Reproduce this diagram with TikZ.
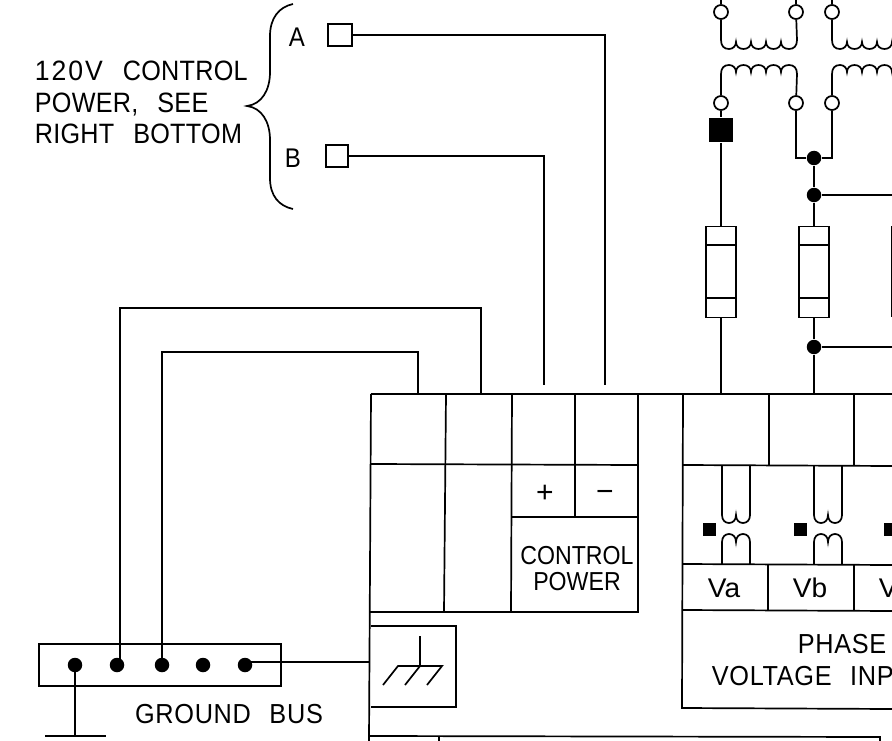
\documentclass[tikz,border=0pt]{standalone}
\usepackage{fontspec}
\setmainfont{Liberation Sans}
\newfontfamily\cadA[LetterSpace=1,WordSpace=2.6,FakeStretch=0.9]{Liberation Sans}
\newfontfamily\cadB[FakeStretch=0.89]{Liberation Sans}
\newfontfamily\cadC[FakeStretch=1.04]{Liberation Sans}
\newfontfamily\cadD[LetterSpace=7,FakeStretch=0.95]{Liberation Sans}
\newfontfamily\cadE[LetterSpace=2.5,WordSpace=2.4,FakeStretch=0.92]{Liberation Sans}
\begin{document}
\begin{tikzpicture}[x=1pt,y=-1pt,line width=1.7pt,line join=miter,
  term/.style={circle,draw,fill=white,inner sep=0pt,minimum size=14pt},
  dot/.style={circle,fill=black,inner sep=0pt,minimum size=14.5pt},
  sqterm/.style={rectangle,draw,fill=white,inner sep=0pt,minimum width=23pt,minimum height=22pt},
  sqblack/.style={rectangle,fill=black,inner sep=0pt,minimum size=24pt},
  sqmark/.style={rectangle,fill=black,inner sep=0pt,minimum size=13pt},
  fuse/.style={rectangle,draw,inner sep=0pt,minimum width=30pt,minimum height=91pt},
  big/.style={font=\cadA\fontsize{28}{28}\selectfont,inner sep=0pt,anchor=base west},
  bigE/.style={font=\cadE\fontsize{27.5}{27.5}\selectfont,inner sep=0pt},
  mid/.style={font=\cadB\fontsize{26}{26}\selectfont,inner sep=0pt,anchor=base},
  vlab/.style={font=\cadC\fontsize{27}{27}\selectfont,inner sep=0pt,anchor=base},
  coilpic/.pic={\draw (0,0) .. controls (0,6) and (3,9) .. (8,9) .. controls (12,9) and (15,6) .. (15,2)
     .. controls (15,6) and (18,9) .. (22.5,9) .. controls (27,9) and (30,6) .. (30,2)
     .. controls (30,6) and (33,9) .. (37.5,9) .. controls (42,9) and (45,6) .. (45,2)
     .. controls (45,6) and (48,9) .. (52.5,9) .. controls (57,9) and (60,6) .. (60,2)
     .. controls (60,6) and (63,9) .. (68,9) .. controls (73,9) and (76,6) .. (76,0);},
  smallcoil/.pic={\draw (0,0) .. controls (0,5) and (3,8) .. (7,8) .. controls (11,8) and (14,5) .. (14,0)
     .. controls (14,5) and (17,8) .. (21,8) .. controls (25,8) and (28,5) .. (28,0);}]
\useasboundingbox (0,0) rectangle (892,741);
\clip (0,0) rectangle (892,741);

% --- control power terminals and brace
\node[big] (t1) at (34,81) {\makebox[88pt][l]{\cadD 120V}CONTROL};
\node[big] (t2) at (34,112.5) {POWER, SEE};
\node[big] (t3) at (34,143.5) {RIGHT BOTTOM};
\node[font=\cadB\fontsize{27}{27}\selectfont,inner sep=0pt] (la) at (297,37) {A};
\node[font=\cadB\fontsize{27}{27}\selectfont,inner sep=0pt] (lb) at (293,158) {B};
\node[sqterm,minimum width=24pt] (ta) at (340,35) {};
\node[sqterm,minimum width=22pt] (tb) at (337,156) {};
\draw (293,4) .. controls (279,7) and (270,18) .. (270,36) -- (270,72)
  .. controls (270,90) and (262,104) .. (247,106)
  .. controls (262,108) and (270,122) .. (270,140) -- (270,178)
  .. controls (270,196) and (279,206) .. (293,209);

% --- main terminal block
\coordinate (wa) at (605,385);
\coordinate (wb) at (544,385);
\coordinate (wc) at (481,394);
\coordinate (wd) at (418,394);
\draw (371,394) -- (892,394);
\draw (371,394) -- (369,741);
\draw (638,394) -- (638,612) -- (370,612);
\draw (371,464) -- (638,465);
\draw (446,394) -- (444,612);
\draw (512,394) -- (511,612);
\draw (575,394) -- (575,517);
\draw (512,517) -- (638,517);
\node[font=\fontsize{30}{30}\selectfont,inner sep=0pt] (plus) at (545,494) {+};
\node[font=\fontsize{30}{30}\selectfont,inner sep=0pt] (minus) at (605,496) {−};
\node[mid] (c1) at (577,564) {CONTROL};
\node[mid] (c2) at (577,590) {POWER};

% --- ground symbol box
\draw (371,626) -- (456,626) -- (456,707) -- (371,707);
\draw (420,636) -- (420,666);
\draw (383,685) -- (398,666) -- (442,666) -- (427,685);
\draw (405,685) -- (420,666);
\coordinate (gs) at (370,662);

% --- bottom block
\draw (369,736) -- (880,737) -- (880,741);
\draw (439,736) -- (439,741);

% --- wires to terminals A and B
\draw (ta) -- (605,35) -- (wa);
\draw (tb) -- (544,156) -- (wb);

% --- ground bus
\draw (39,644) rectangle (281,686);
\node[dot] (g1) at (75,665) {};
\node[dot] (g2) at (117,665) {};
\node[dot] (g3) at (162,665) {};
\node[dot] (g4) at (203,665) {};
\node[dot] (g5) at (245,665) {};
\node[bigE,anchor=base] (gb) at (229,723.5) {GROUND BUS};
\coordinate (gnd) at (75,736);
\draw (g1.center) -- (gnd);
\draw (45,736) -- (106,736);
\draw (g5.center) ++(0,-3) -- (gs);
\draw (g2.center) ++(3,0) -- (120,308) -- (481,308) -- (wc);
\draw (g3.center) -- (162,352) -- (418,352) -- (wd);

% --- transformers
\node[term] (p1) at (721,12) {};
\node[term] (p2) at (796,12) {};
\node[term] (p3) at (832,12) {};
\node[term] (s1) at (721,103) {};
\node[term] (s2) at (796,103) {};
\node[term] (s3) at (832,103) {};
\draw (p1) -- (721,0);
\draw (p2) -- (796,0);
\draw (p3) -- (832,0);
\draw (p1) -- (721,40); \draw (p2) -- (797,40); \draw (p3) -- (832,40);
\draw (s1) -- (721,74); \draw (s2) -- (797,74); \draw (s3) -- (832,74);
\pic at (721,40) {coilpic};
\pic at (832,40) {coilpic};
\pic[yscale=-1] at (721,74) {coilpic};
\pic[yscale=-1] at (832,74) {coilpic};

\node[sqblack] (bk) at (721,130) {};
\node[dot] (j1) at (814,158) {};
\node[dot] (j2) at (814,195) {};
\node[dot] (j3) at (814,347) {};
\draw (s2) -- (796,158) -- (j1);
\draw (s3) -- (832,158) -- (j1);
\draw (s1) -- (bk);
\draw (j1) -- (j2);
\draw (j2) -- (892,195);
\draw (j3) -- (892,347);

% --- fuses
\node[fuse] (f1) at (721,272) {};
\node[fuse] (f2) at (814,272) {};
\draw (706,245) -- (736,245) (706,298) -- (736,298);
\draw (799,245) -- (829,245) (799,298) -- (829,298);
\draw (892,226) -- (892,317);
\draw (bk) -- (f1);
\draw (j2) -- (f2);
\draw (f2) -- (j3);
\draw (f1) -- (721,394);
\draw (j3) -- (814,394);

% --- phase voltage block
\draw (683,394) -- (682,708) -- (892,709);
\draw (769,395) -- (769,465);
\draw (854,395) -- (854,465);
\draw (683,465) -- (892,466);
\draw (682,564) -- (892,565);
\draw (682,610) -- (892,611);
\draw (768,564) -- (768,610);
\draw (854,565) -- (854,610);
\foreach \x in {722,814}{
  \draw (\x,465) -- (\x,515);
  \draw (\x+28,465) -- (\x+28,515);
  \draw (\x,564) -- (\x,542);
  \draw (\x+28,564) -- (\x+28,542);
  \pic at (\x,515) {smallcoil};
  \pic[yscale=-1] at (\x,542) {smallcoil};
}
\node[sqmark] (m1) at (709.5,529.5) {};
\node[sqmark] (m2) at (800.5,529.5) {};
\node[sqmark] (m3) at (890.5,529.5) {};
\node[vlab] (va) at (724,597) {Va};
\node[vlab] (vb) at (810,597) {Vb};
\node[vlab,anchor=base west] (vc) at (878,597) {V};
\node[bigE,anchor=base west] (ph1) at (797,653) {PHASE};
\node[bigE,anchor=base west] (ph2) at (711,685) {VOLTAGE INP};
\end{tikzpicture}
\end{document}
